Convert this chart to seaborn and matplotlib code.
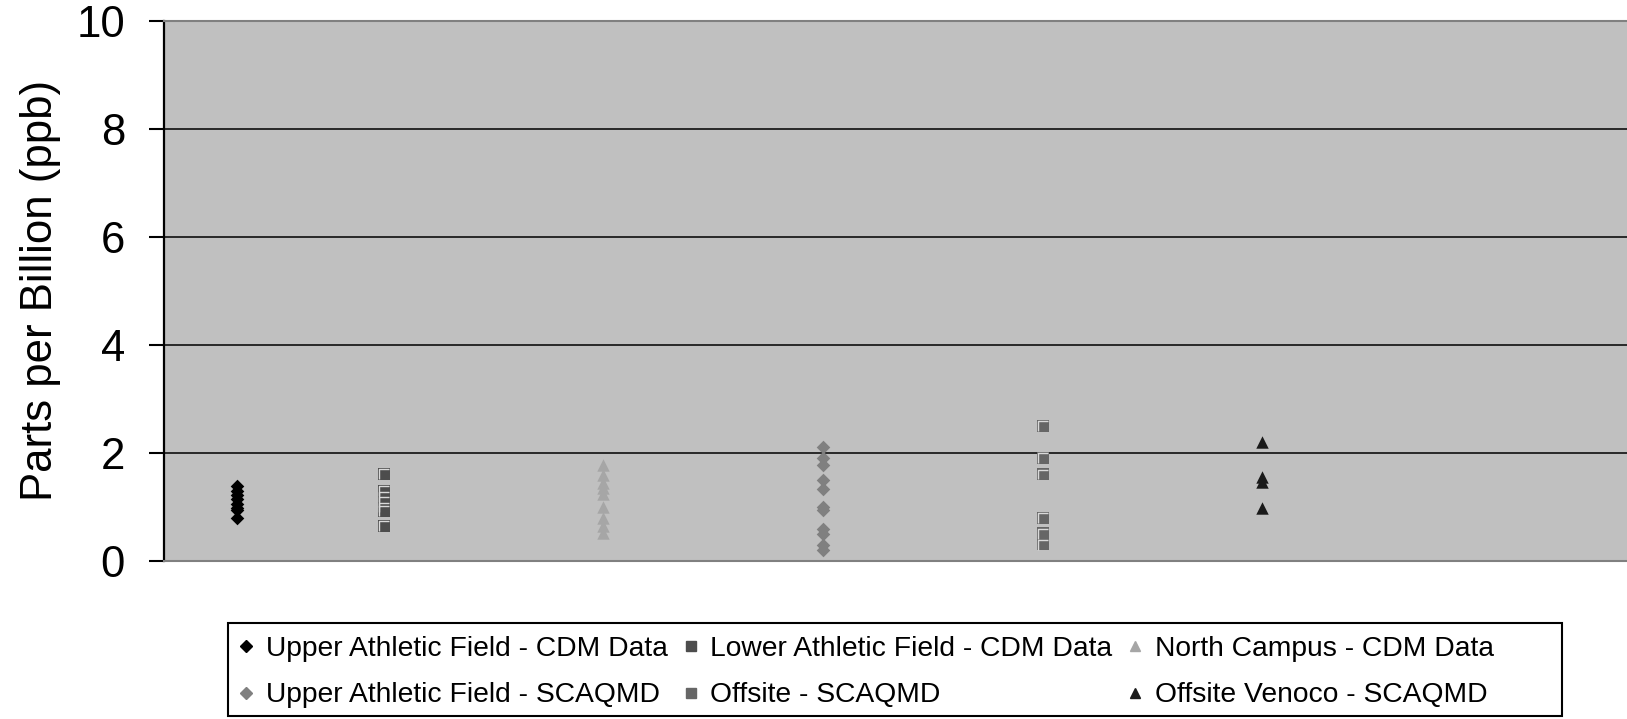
import numpy as np
import pandas as pd
import matplotlib
matplotlib.use("Agg")
import matplotlib.pyplot as plt
from matplotlib.path import Path
from matplotlib.patches import Rectangle
import seaborn as sns

# Series labels and colours
labels = ["Upper Athletic Field - CDM Data", "Lower Athletic Field - CDM Data",
          "North Campus - CDM Data", "Upper Athletic Field - SCAQMD",
          "Offsite - SCAQMD", "Offsite Venoco - SCAQMD"]
site_x = [0.5, 1.5, 3.0, 4.5, 6.0, 7.5]

# Concentrations (ppb)
upper_cdm = [1.38, 1.30, 1.22, 1.15, 1.05, 0.98, 0.95, 0.80]
lower_cdm = [1.62, 1.30, 1.20, 1.10, 1.00, 0.93, 0.65]
north_cdm = [1.78, 1.60, 1.45, 1.35, 1.25, 1.00, 0.80, 0.65, 0.52]
upper_scaqmd = [2.12, 1.90, 1.78, 1.50, 1.33, 1.00, 0.95, 0.60, 0.50, 0.30, 0.20]
offsite_scaqmd = [2.50, 1.91, 1.61, 0.80, 0.51, 0.31]
venoco_scaqmd = [2.21, 1.56, 1.47, 0.99]

series = [upper_cdm, lower_cdm, north_cdm, upper_scaqmd, offsite_scaqmd, venoco_scaqmd]
markers = ["D", "s", "^", "D", "s", "^"]
colors = ["#000000", "#4d4d4d", "#a6a6a6", "#808080", "#666666", "#1a1a1a"]
sizes = [48, 78, 80, 48, 78, 80]

sns.set_style("white")
plt.rcParams["font.family"] = ["Liberation Sans", "DejaVu Sans"]
plt.rcParams["text.color"] = "black"
plt.rcParams["axes.labelcolor"] = "black"

fig = plt.figure(figsize=(16.27, 7.19), dpi=100)
ax = fig.add_axes([0.1008, 0.2197, 0.9, 0.7514])
ax.set_facecolor("#c0c0c0")

# light corner line inside the square markers (Excel 3D look)
corner = Path([(-0.32, -0.38), (-0.32, 0.32), (0.38, 0.32)],
              [Path.MOVETO, Path.LINETO, Path.LINETO])

handles = []
for lab, xv, vals, m, c, s in zip(labels, site_x, series, markers, colors, sizes):
    df = pd.DataFrame({"x": [xv] * len(vals), "ppb": vals})
    sns.scatterplot(data=df, x="x", y="ppb", marker=m, color=c, s=s,
                    linewidth=0, ax=ax, label=lab, zorder=3, legend=False)
    if m == "s":
        sns.scatterplot(data=df, x="x", y="ppb", marker=corner, s=s * 0.75,
                        facecolor="none", edgecolor="#d9d9d9", linewidth=1.0,
                        ax=ax, zorder=4, legend=False)
    handles.append(plt.Line2D([], [], linestyle="none", marker=m, color=c,
                              markersize=7 if m != "D" else 6.5, label=lab))

ax.set_xlim(0, 10)
ax.set_ylim(0, 10)
ax.set_yticks([0, 2, 4, 6, 8, 10])
ax.set_xticks([])
ax.set_xlabel("")
ax.yaxis.grid(True, color="black", linewidth=1.1)
ax.set_axisbelow(True)
ax.tick_params(axis="y", direction="out", length=11, width=1.5, pad=17,
               labelsize=31.5, left=True, colors="black")
ax.spines["right"].set_visible(False)
for sp in ["top", "bottom"]:
    ax.spines[sp].set_color("#808080")
    ax.spines[sp].set_linewidth(1.5)
ax.spines["left"].set_color("black")
ax.spines["left"].set_linewidth(1.6)
ax.set_ylabel("Parts per Billion (ppb)", fontsize=31.5, labelpad=11)

order = [0, 3, 1, 4, 2, 5]
leg = fig.legend([handles[i] for i in order], [labels[i] for i in order],
                 ncol=3, loc="center left", bbox_to_anchor=(0.1435, 0.065),
                 fontsize=20.3, frameon=False, handletextpad=0.25,
                 columnspacing=0.36, labelspacing=0.72, borderpad=0,
                 borderaxespad=0, handlelength=0.9)
# Excel-style legend frame with equal-width columns
fig.add_artist(Rectangle((0.1403, 0.0042), 0.8195, 0.1299, transform=fig.transFigure,
                         facecolor="none", edgecolor="black", linewidth=1.5))

fig.savefig("out.png", dpi=100, facecolor="white")
